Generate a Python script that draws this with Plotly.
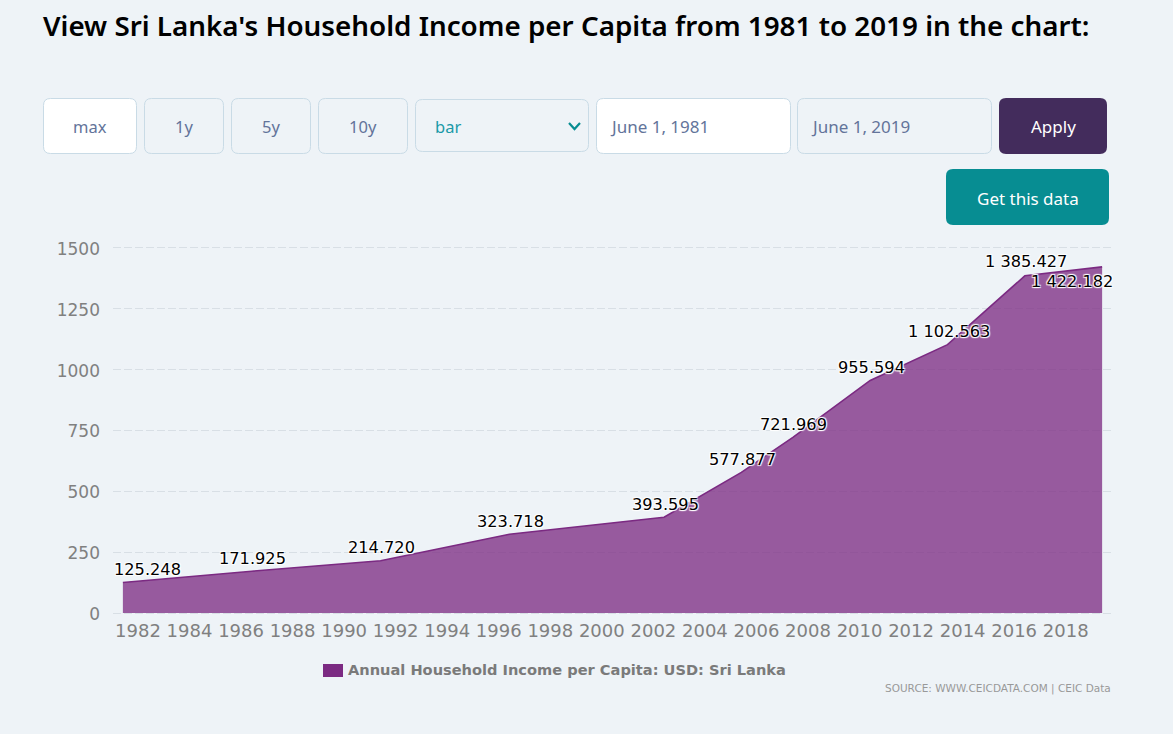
"""Sri Lanka household income per capita, with the page controls around the chart."""

import plotly.graph_objects as go

DATES = [
    "1981-06-01", "1986-06-01", "1991-06-01", "1996-06-01", "2002-06-01", "2005-06-01",
    "2007-06-01", "2010-06-01", "2013-06-01", "2016-06-01", "2019-06-01",
]
VALUES = [125.248, 171.925, 214.720, 323.718, 393.595, 577.877, 721.969, 955.594, 1102.563, 1385.427, 1422.182]
VALUE_LABELS = [
    "125.248", "171.925", "214.720", "323.718", "393.595", "577.877",
    "721.969", "955.594", "1 102.563", "1 385.427", "1 422.182",
]
Y_TICKS = [0, 250, 500, 750, 1000, 1250, 1500]
SERIES_NAME = "Annual Household Income per Capita: USD: Sri Lanka"
SOURCE = "SOURCE: WWW.CEICDATA.COM | CEIC Data"
TITLE = "View Sri Lanka's Household Income per Capita from 1981 to 2019 in the chart:"

WIDTH, HEIGHT = 1173, 734
# two pixels of slack around 0 and 1500 so plotly keeps those two gridlines
LEFT, RIGHT, TOP, BOTTOM = 113, 1112, 246, 615
BG = "#eef3f7"
BORDER = "#c9dbe6"
PURPLE = "#7b2a82"
TEAL = "#078d92"
MUTED = "#63749a"
UI_FONT = "Noto Sans"
CHART_FONT = "DejaVu Sans"
OUTLINE = "1px 1px 1px #fff, -1px -1px 1px #fff, 1px -1px 1px #fff, -1px 1px 1px #fff"

# pixel shift of each data label from its point (the end ones are pushed back inside)
LABEL_DX = [25, 1, 1, 1, 1, 1, 1, 1, 1, 1, -30]
LABEL_DY = [13, 13, 13, 13, 13, 13, 13, 13, 13, 14, -15]


def px(x):
    return (x - LEFT) / (RIGHT - LEFT)


def py(y):
    return (BOTTOM - y) / (BOTTOM - TOP)


def rounded_box(x0, y0, x1, y1, fill, line=None, r=7):
    p = lambda x, y: f"{px(x):.5f},{py(y):.5f}"
    path = (
        f"M {p(x0 + r, y0)} L {p(x1 - r, y0)} Q {p(x1, y0)} {p(x1, y0 + r)} "
        f"L {p(x1, y1 - r)} Q {p(x1, y1)} {p(x1 - r, y1)} "
        f"L {p(x0 + r, y1)} Q {p(x0, y1)} {p(x0, y1 - r)} "
        f"L {p(x0, y0 + r)} Q {p(x0, y0)} {p(x0 + r, y0)} Z"
    )
    return {
        "type": "path", "xref": "paper", "yref": "paper", "path": path, "fillcolor": fill,
        "line": {"color": line or fill, "width": 1 if line else 0},
    }


def page_text(x, y, text, color=MUTED, size=16.5, anchor="center", family=UI_FONT):
    # annotations carry 2px of padding, take it back on left/right anchored text
    nudge = {"left": -2, "right": 2, "center": 0}[anchor]
    return {
        "xref": "paper", "yref": "paper", "x": px(x + nudge), "y": py(y), "text": text, "showarrow": False,
        "xanchor": anchor, "yanchor": "middle", "font": {"family": family, "size": size, "color": color},
    }


shapes = [
    rounded_box(43.5, 98.5, 136.5, 153.5, "#ffffff", BORDER),
    rounded_box(144.5, 98.5, 223.5, 153.5, BG, BORDER),
    rounded_box(231.5, 98.5, 310.5, 153.5, BG, BORDER),
    rounded_box(318.5, 98.5, 407.5, 153.5, BG, BORDER),
    rounded_box(415.5, 99.5, 588.5, 151.5, BG, BORDER),
    rounded_box(596.5, 98.5, 790.5, 153.5, "#ffffff", BORDER),
    rounded_box(797.5, 98.5, 991.5, 153.5, BG, BORDER),
    rounded_box(999, 98, 1107, 154, "#432c5c"),
    rounded_box(946, 169, 1109, 225, TEAL),
    {
        "type": "path", "xref": "paper", "yref": "paper",
        "path": f"M {px(569)},{py(123)} L {px(574.5)},{py(129)} L {px(580)},{py(123)}",
        "line": {"color": TEAL, "width": 2.2},
    },
    {
        "type": "rect", "xref": "paper", "yref": "paper", "x0": px(323), "x1": px(343),
        "y0": py(664), "y1": py(677), "fillcolor": PURPLE, "line": {"width": 0},
    },
]

annotations = [
    page_text(90, 127, "max"),
    page_text(184, 127, "1y"),
    page_text(271, 127, "5y"),
    page_text(363, 127, "10y"),
    page_text(435, 126, "bar", color="#1a9aa8", anchor="left"),
    page_text(610, 126, "June 1, 1981", size=17, anchor="left"),
    page_text(811, 126, "June 1, 2019", size=17, anchor="left"),
    page_text(1053, 127, "Apply", color="#ffffff", size=17),
    page_text(1028, 198, "Get this data", color="#ffffff", size=17),
    page_text(348, 669, f"<b>{SERIES_NAME}</b>", color="#7a7a7a", size=14.6, anchor="left", family=CHART_FONT),
    page_text(1111, 688, SOURCE, color="#999999", size=10.5, anchor="right", family=CHART_FONT),
]
for date, value, label, dx, dy in zip(DATES, VALUES, VALUE_LABELS, LABEL_DX, LABEL_DY):
    annotations.append({
        "x": date, "y": value, "text": label, "showarrow": False, "xshift": dx, "yshift": dy,
        "xanchor": "center", "yanchor": "middle",
        "font": {"family": CHART_FONT, "size": 16.2, "color": "#000000", "shadow": OUTLINE},
    })

fig = go.Figure(
    go.Scatter(
        x=DATES,
        y=VALUES,
        mode="lines",
        name=SERIES_NAME,
        fill="tozeroy",
        fillcolor="rgba(123,42,130,0.76)",
        line={"color": PURPLE, "width": 1.6},
        hoverinfo="x+y",
    )
)
fig.update_layout(
    width=WIDTH,
    height=HEIGHT,
    paper_bgcolor=BG,
    plot_bgcolor=BG,
    showlegend=False,
    margin={"l": LEFT, "r": WIDTH - RIGHT, "t": TOP, "b": HEIGHT - BOTTOM, "pad": 0, "autoexpand": False},
    title={
        "text": TITLE, "x": 43 / WIDTH, "xanchor": "left", "y": 1 - 26 / HEIGHT, "yanchor": "middle",
        "font": {"family": UI_FONT, "size": 27.8, "color": "#000000", "weight": 600},
    },
    shapes=shapes,
    annotations=annotations,
)
fig.update_xaxes(
    type="date",
    range=["1981-01-12", "2019-10-19"],
    tick0="1982-01-01",
    dtick="M24",
    tickformat="%Y",
    showgrid=False,
    zeroline=False,
    ticks="",
    ticklabelstandoff=3,
    tickfont={"family": CHART_FONT, "size": 18, "color": "#808080"},
)
fig.update_yaxes(
    range=[-8, 1508],
    tickvals=Y_TICKS,
    gridcolor="#d8dfe5",
    griddash="8px,3px",
    gridwidth=1,
    zeroline=False,
    ticks="",
    ticklabelstandoff=12,
    ticklabelshift=1,
    tickfont={"family": CHART_FONT, "size": 17, "color": "#808080"},
)

fig.write_html(
    "out.html",
    config={"displayModeBar": False},
    post_script="document.body.style.margin='0';document.body.style.overflow='hidden';",
)
